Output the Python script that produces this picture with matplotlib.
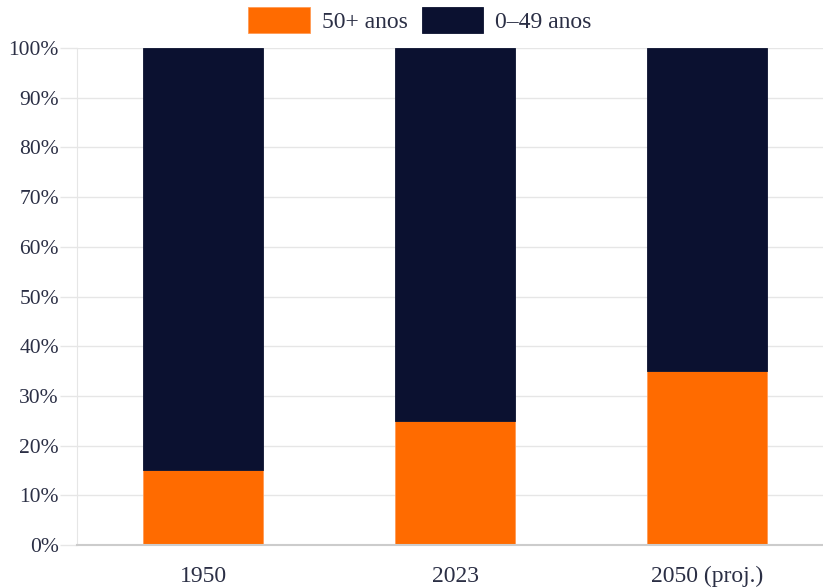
import numpy as np
from matplotlib import pyplot as plt

categories = ['1950', '2023', '2050 (proj.)']
share_50plus = [15, 25, 35]
share_0_49 = [85, 75, 65]
yticks = [0, 10, 20, 30, 40, 50, 60, 70, 80, 90, 100]

orange = '#ff6b00'
navy = '#0b1130'
txt = '#2b2f45'

plt.rcParams['font.family'] = ['Liberation Serif', 'DejaVu Serif']

fig = plt.figure(figsize=(8.23, 5.87), dpi=100)
ax = fig.add_axes([77/823, 42/587, 1 - 77/823, (545 - 48)/587])

x = np.arange(len(categories))
b1 = ax.bar(x, share_50plus, width=120/252, color=orange, edgecolor='#ff9a55', linewidth=0.6, zorder=3)
b2 = ax.bar(x, share_0_49, bottom=share_50plus, width=120/252, color=navy, edgecolor=navy, linewidth=0.6, zorder=3)

ax.set_xlim(-0.5, 2.46)
ax.set_ylim(0, 100)
ax.set_yticks(yticks)
ax.set_yticklabels([f'{v}%' for v in yticks], fontsize=15.5, color=txt)
ax.set_xticks(x)
ax.set_xticklabels(categories, fontsize=17, color=txt)
ax.grid(axis='y', color='#e6e6e6', linewidth=1, zorder=0)
ax.tick_params(axis='y', length=12, color='#e6e6e6', width=1, pad=1)
ax.tick_params(axis='x', length=0, pad=15)
for s in ['top', 'right']:
    ax.spines[s].set_visible(False)
ax.spines['left'].set_color('#e6e6e6')
ax.spines['bottom'].set_color('#cccccc')
ax.spines['bottom'].set_linewidth(1.5)
ax.spines['bottom'].set_zorder(4)

fig.legend([b1, b2], ['50+ anos', '0–49 anos'], loc='center', bbox_to_anchor=(0.51, 1 - 20/587),
           ncol=2, frameon=False, fontsize=17, handlelength=2.6, handleheight=1.3,
           handletextpad=0.5, columnspacing=0.6, labelcolor=txt)

plt.savefig('out.png', dpi=100)
